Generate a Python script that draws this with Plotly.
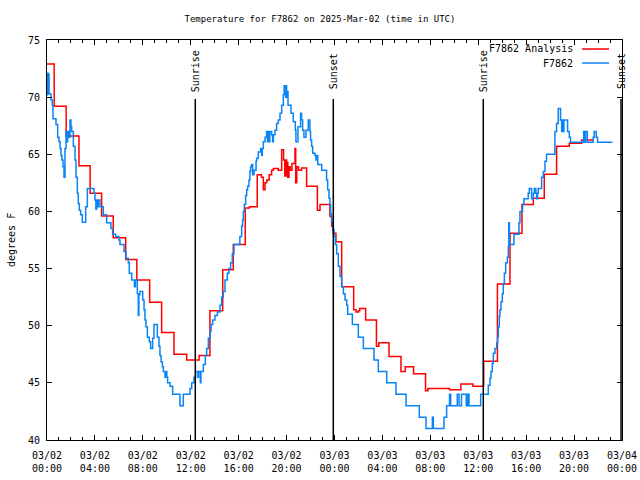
import pandas as pd
import plotly.graph_objects as go

BASE = pd.Timestamp("2025-03-02 00:00")

# Analysis (red) step series: hours since 03/02 00:00 UTC, degrees F
analysis_hours = [0.0, 0.6, 1.6, 2.67, 3.6, 4.56, 5.53, 6.57, 7.5, 8.57, 9.57, 10.6, 11.66, 12.7,
                  13.6, 14.67, 15.55, 16.55, 16.9, 17.55, 17.9, 18.06, 18.2, 18.35, 18.55, 18.75,
                  18.9, 19.3, 19.59, 19.75, 19.85, 19.9, 20.0, 20.05, 20.1, 20.2, 20.3, 20.45,
                  20.7, 20.76, 20.85, 21.0, 21.25, 21.67, 22.57, 22.79, 23.62, 23.76, 23.9, 24.12,
                  24.6, 25.6, 25.8, 26.0, 26.1, 26.6, 27.5, 27.7, 28.55, 29.55, 29.9, 30.6,
                  31.6, 31.8, 33.6, 34.55, 35.55, 36.45, 37.6, 38.65, 39.65, 40.6, 41.51,
                  42.54, 43.6, 44.63, 45.6]
analysis_vals = [72.9, 69.2, 66.6, 64.0, 61.6, 59.6, 57.7, 55.8, 54.0, 52.05, 49.4, 47.5, 47.0, 47.4,
                 51.3, 54.9, 57.1, 60.3, 60.4, 63.2, 63.0, 61.9, 62.5, 62.75, 63.2, 63.6,
                 63.75, 63.6, 65.4, 64.5, 63.1, 64.5, 63.1, 64.3, 63.0, 63.9, 63.6, 64.2,
                 65.5, 62.5, 63.9, 63.6, 63.8, 62.2, 60.1, 60.6, 59.55, 58.7, 58.1, 57.35,
                 53.4, 51.4, 51.2, 51.3, 51.5, 50.5, 48.2, 48.5, 47.3, 46.0, 46.4, 45.8,
                 44.3, 44.5, 44.4, 44.9, 44.7, 46.9, 53.65, 58.1, 60.6, 61.15, 63.25,
                 65.7, 65.97, 66.25, 66.25]

# Observation (blue) step series
obs_hours = [0.0, 0.05, 0.1, 0.13, 0.17, 0.33, 0.44, 0.5, 0.75, 0.89, 1.0, 1.09, 1.17, 1.25, 1.34,
             1.42, 1.5, 1.59, 1.67, 1.72, 1.8, 1.92, 2.0, 2.06, 2.2, 2.34, 2.42, 2.53, 2.61, 2.7,
             2.81, 2.95, 3.23, 3.37, 3.92, 4.0, 4.08, 4.14, 4.2, 4.28, 4.42, 4.7, 4.98, 5.34,
             5.48, 5.73, 6.01, 6.09, 6.43, 6.59, 6.79, 6.87, 7.07, 7.3, 7.38, 7.54, 7.62, 7.67,
             7.76, 7.99, 8.1, 8.18, 8.26, 8.38, 8.54, 8.65, 8.82, 8.93, 9.21, 9.35, 9.43, 9.52,
             9.63, 9.71, 9.85, 9.95, 10.0, 10.07, 10.27, 10.49, 11.1, 11.38, 11.94, 12.08,
             12.27, 12.41, 12.6, 12.65, 12.8, 12.85, 13.05, 13.22, 13.33, 13.47, 13.61, 13.69,
             13.83, 14.02, 14.22, 14.44, 14.58, 14.72, 14.86, 15.05, 15.19, 15.33, 15.47,
             15.61, 16.1, 16.25, 16.33, 16.39, 16.47, 16.58, 16.67, 16.75, 16.86, 16.94, 17.0,
             17.08, 17.17, 17.28, 17.45, 17.5, 17.64, 17.83, 17.92, 17.97, 18.06, 18.2, 18.33,
             18.4, 18.45, 18.55, 18.6, 18.75, 18.83, 18.9, 19.03, 19.17, 19.31, 19.45, 19.59,
             19.73, 19.8, 19.92, 19.97, 20.0, 20.07, 20.12, 20.37, 20.56, 20.73, 20.78, 20.95,
             21.17, 21.25, 21.34, 21.45, 21.62, 21.81, 21.95, 22.0, 22.09, 22.18, 22.37, 22.45,
             22.56, 22.6, 22.93, 23.34, 23.43, 23.54, 23.62, 23.68, 23.76, 23.84, 23.96, 24.07,
             24.18, 24.32, 24.46, 24.6, 24.74, 24.88, 25.02, 25.1, 25.49, 25.99, 26.41, 27.3,
             27.66, 28.36, 29.13, 29.97, 31.08, 31.64, 32.17, 32.25, 33.14, 33.36, 33.6, 33.7,
             34.25, 34.4, 34.6, 35.0, 35.12, 35.23, 36.2, 36.84, 36.98, 37.06, 37.17, 37.26,
             37.4, 37.54, 37.62, 37.67, 37.76, 37.81, 37.9, 38.01, 38.09, 38.18, 38.29, 38.43,
             38.51, 38.55, 38.6, 38.98, 39.4, 39.48, 39.7, 39.81, 40.17, 40.26, 40.45, 40.6,
             40.68, 40.81, 40.87, 40.95, 41.01, 41.29, 41.43, 41.57, 41.7, 42.4, 42.54, 42.68,
             42.87, 42.96, 43.0, 43.1, 43.15, 43.46, 43.6, 43.7, 44.8, 44.9, 44.95, 45.1,
             45.6, 45.68, 45.85, 45.96, 47.2]
obs_vals = [70.2, 72.1, 71.5, 72.0, 70.3, 69.75, 69.3, 68.1, 67.6, 66.5, 66.1, 65.5, 64.9, 64.5, 63.9,
            63.0, 65.5, 67.0, 66.1, 67.0, 66.5, 68.0, 67.4, 67.0, 65.7, 64.5, 63.0, 61.6, 60.7, 60.1,
            59.7, 59.05, 60.4, 62.0, 61.6, 61.0, 60.2, 61.0, 60.4, 61.0, 60.4, 59.7, 59.0, 58.5,
            58.0, 57.8, 57.5, 57.1, 56.5, 55.9, 55.5, 54.6, 54.0, 53.4, 54.0, 52.8, 50.9, 52.7,
            53.0, 52.25, 51.4, 50.5, 49.9, 49.0, 48.6, 48.0, 48.9, 50.1, 49.0, 48.2, 47.4, 46.85,
            46.4, 46.0, 45.5, 46.0, 45.5, 45.0, 44.7, 44.0, 43.0, 44.0, 44.5, 45.0,
            45.5, 46.0, 45.5, 46.0, 45.0, 46.0, 46.6, 47.4, 48.0, 48.9, 49.5, 50.1,
            50.5, 50.9, 51.2, 51.8, 52.5, 53.0, 54.0, 54.6, 55.0, 55.5, 56.3,
            57.1, 57.8, 58.7, 59.25, 60.0, 60.6, 61.4, 61.9, 62.2, 62.75, 63.5, 63.9,
            64.1, 63.2, 63.6, 64.4, 64.65, 65.2, 65.5, 64.9, 65.5, 66.1, 66.5, 67.0,
            66.1, 67.0, 66.1, 67.0, 66.7, 66.1, 66.7, 67.1, 67.7, 68.0, 68.6, 69.3,
            70.2, 71.0, 70.0, 71.0, 70.0, 70.5, 69.3, 68.6, 67.85, 67.1, 66.1, 67.4,
            68.6, 68.0, 67.1, 66.5, 67.1, 68.0, 67.0, 66.25, 65.7, 65.1, 64.9, 64.5,
            64.9, 64.1, 63.6, 62.75, 61.9, 61.15, 60.6, 59.8, 59.1, 58.4, 57.8, 57.1,
            56.3, 55.2, 54.3, 53.4, 52.8, 52.25, 51.8, 51.0, 50.1, 49.0, 48.0, 47.0,
            46.0, 45.0, 44.0, 43.0, 42.0, 41.0, 42.0, 41.0, 42.0, 43.0, 44.0, 43.0,
            44.0, 43.0, 44.0, 43.0, 44.0, 43.0, 44.0, 44.8, 45.4, 46.0, 46.7, 47.6,
            48.0, 48.5, 49.0, 49.9, 50.8, 51.4, 52.1, 52.8, 53.7, 54.6, 55.5, 56.0,
            56.9, 59.0, 57.1, 58.0, 59.0, 60.0, 60.6, 61.1, 61.6, 62.0, 61.1, 61.6,
            62.0, 61.6, 61.1, 61.6, 62.0, 63.0, 63.5, 64.4, 65.0, 67.0, 67.7, 69.0,
            68.0, 67.0, 68.0, 67.0, 68.0, 67.0, 66.5, 66.05, 67.0, 66.05, 67.0, 66.05,
            66.5, 67.0, 66.5, 66.05, 66.05]

# Sun events (hours since 03/02 00:00 UTC)
event_hours = [12.38, 23.9, 36.42, 47.92]
event_labels = ["Sunrise", "Sunset", "Sunrise", "Sunset"]

y_ticks = [40, 45, 50, 55, 60, 65, 70, 75]

FONT = "DejaVu Sans Mono"
RED = "#ff0000"
BLUE = "#0a84f5"

W, H = 640, 480
PLOT_L, PLOT_R, PLOT_T, PLOT_B = 47, 622, 40, 440   # plot box in figure pixels
PW, PH = PLOT_R - PLOT_L, PLOT_B - PLOT_T


def to_time(hours):
    return BASE + pd.to_timedelta(pd.Series(hours), unit="h")


def px_x(px):
    return (px - PLOT_L) / PW


def px_y(py):
    return (PLOT_B - py) / PH


fig = go.Figure()
fig.add_trace(go.Scatter(x=to_time(analysis_hours), y=analysis_vals, mode="lines",
                         line=dict(color=RED, width=1.5, shape="hv"),
                         name="F7862 Analysis", showlegend=False))
fig.add_trace(go.Scatter(x=to_time(obs_hours), y=obs_vals, mode="lines",
                         line=dict(color=BLUE, width=1.5, shape="hv"),
                         name="F7862", showlegend=False))

for h, lab in zip(event_hours, event_labels):
    t = BASE + pd.Timedelta(hours=h)
    fig.add_shape(type="line", xref="x", yref="paper", x0=t, x1=t, y0=0, y1=px_y(99),
                  line=dict(color="black", width=1.5))
    fig.add_annotation(x=t, xref="x", y=px_y(71), yref="paper", text=lab, showarrow=False,
                       textangle=-90, font=dict(family=FONT, size=10, color="black"),
                       xanchor="center", yanchor="middle")

# gnuplot-style key (top right)
for i, (name, color) in enumerate([("F7862 Analysis", RED), ("F7862", BLUE)]):
    yp = px_y(49 + i * 14)
    fig.add_annotation(x=px_x(575), xref="paper", y=yp, yref="paper", text=name,
                       showarrow=False, xanchor="right", yanchor="middle",
                       font=dict(family=FONT, size=10, color="black"))
    fig.add_shape(type="line", xref="paper", yref="paper", x0=px_x(582), x1=px_x(609),
                  y0=yp, y1=yp, line=dict(color=color, width=1.5))

# y-axis label
fig.add_annotation(x=px_x(11), xref="paper", y=px_y(240), yref="paper", text="degrees F",
                   showarrow=False, textangle=-90, xanchor="center", yanchor="middle",
                   font=dict(family=FONT, size=10, color="black"))

tickfont = dict(family=FONT, size=10, color="black")
fig.update_layout(
    width=W, height=H,
    margin=dict(l=PLOT_L, r=W - PLOT_R, t=PLOT_T, b=H - PLOT_B, autoexpand=False),
    paper_bgcolor="white", plot_bgcolor="white",
    title=dict(text="Temperature for F7862 on 2025-Mar-02 (time in UTC)",
               x=0.5, xanchor="center",
               y=1 - 19 / H, yanchor="middle", yref="container",
               font=dict(family=FONT, size=9, color="black")),
    xaxis=dict(type="date", range=[BASE, BASE + pd.Timedelta(hours=48)],
               tick0=BASE, dtick=4 * 3600 * 1000, tickformat="%m/%d<br>%H:%M",
               showgrid=False, zeroline=False, showline=True, linecolor="black", linewidth=1,
               mirror="allticks", ticks="inside", ticklen=5, tickcolor="black",
               tickfont=tickfont, automargin=False, ticklabelstandoff=6,
               ticklabeloverflow="allow",
               minor=dict(dtick=3600 * 1000, ticks="inside", ticklen=3, tickcolor="black",
                          showgrid=False)),
    yaxis=dict(range=[40, 75], tickvals=y_ticks, showgrid=False, zeroline=False,
               showline=True, linecolor="black", linewidth=1, mirror="allticks",
               ticks="inside", ticklen=5, tickcolor="black", tickfont=tickfont,
               automargin=False, ticklabelstandoff=4),
)

# remove the browser's default page margin so the 640x480 figure fills the window exactly
fig.write_html("out.html",
               config={"displayModeBar": False, "staticPlot": True},
               post_script="document.body.style.margin='0';document.body.style.overflow='hidden';")
